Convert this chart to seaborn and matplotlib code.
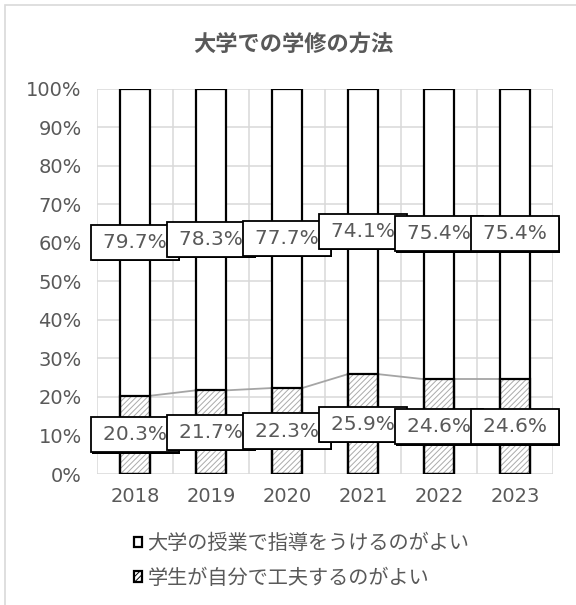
import pandas as pd
import matplotlib.pyplot as plt
import seaborn as sns
import matplotlib.patheffects as pe
from matplotlib.patches import Patch, Rectangle
from matplotlib.ticker import FuncFormatter, MultipleLocator, FixedLocator

# data
years = ['2018', '2019', '2020', '2021', '2022', '2023']
self_study = [20.3, 21.7, 22.3, 25.9, 24.6, 24.6]      # 学生が自分で工夫するのがよい
class_guidance = [79.7, 78.3, 77.7, 74.1, 75.4, 75.4]  # 大学の授業で指導をうけるのがよい
series_names = ['大学の授業で指導をうけるのがよい', '学生が自分で工夫するのがよい']
title = '大学での学修の方法'

df = pd.DataFrame({'year': years, 'bottom': self_study, 'top': class_guidance})
df['total'] = df['bottom'] + df['top']

sns.set_style('white')
plt.rcParams['font.family'] = ['DejaVu Sans', 'Noto Sans CJK JP']
plt.rcParams['hatch.linewidth'] = 0.7

txt = '#595959'
grid = '#D9D9D9'
W = 0.4
HATCH = '//////'

fig = plt.figure(figsize=(5.76, 6.05), dpi=100)
ax = fig.add_axes([97 / 576, 1 - 474 / 605, 456 / 576, 385.5 / 605])

# stacked bars
sns.barplot(data=df, x='year', y='total', order=years, color='white', width=W,
            linewidth=0, saturation=1, ax=ax, zorder=2)
sns.barplot(data=df, x='year', y='bottom', order=years, color='white', width=W,
            edgecolor='#AAAAAA', linewidth=0, hatch=HATCH, saturation=1, ax=ax, zorder=3)
sns.barplot(data=df, x='year', y='total', order=years, fill=False, color='black', width=W,
            linewidth=1.6, ax=ax, zorder=4)
sns.barplot(data=df, x='year', y='bottom', order=years, fill=False, color='black', width=W,
            linewidth=1.6, ax=ax, zorder=4)

# series lines between the bottom segments
for i in range(len(years) - 1):
    ax.plot([i + W / 2, i + 1 - W / 2], [self_study[i], self_study[i + 1]],
            color='#A5A5A5', lw=1.3, zorder=1.5)

# data labels
shadow = [pe.SimplePatchShadow(offset=(1.0, -1.0), shadow_rgbFace='black', alpha=1), pe.Normal()]
for i in range(len(years)):
    for val, ypos in [(class_guidance[i], self_study[i] + class_guidance[i] / 2),
                      (self_study[i], self_study[i] / 2)]:
        t = ax.text(i, ypos, f'\u2009{val:.1f}%\u2009', ha='center', va='center', fontsize=14.5,
                    color=txt, zorder=6,
                    bbox=dict(boxstyle='square,pad=0.4', fc='white', ec='black', lw=1.3))
        t.get_bbox_patch().set_path_effects(shadow)

ax.set_xlim(-0.5, len(years) - 0.5)
ax.set_ylim(0, 100)
ax.yaxis.set_major_locator(MultipleLocator(10))
ax.yaxis.set_major_formatter(FuncFormatter(lambda v, p: f'{v:.0f}%'))
ax.xaxis.set_minor_locator(FixedLocator([k - 0.5 for k in range(len(years) + 1)]))
ax.grid(axis='y', which='major', color=grid, lw=1.1)
ax.grid(axis='x', which='minor', color=grid, lw=1.1)
ax.set_axisbelow(True)
for s in ax.spines.values():
    s.set_visible(False)
ax.tick_params(axis='both', which='both', length=0, labelsize=14, colors=txt)
ax.tick_params(axis='y', pad=11)
ax.tick_params(axis='x', pad=9)
ax.set_xlabel('')
ax.set_ylabel('')

fig.text(293 / 576, 1 - 44 / 605, title, ha='center', va='center', fontsize=16,
         fontweight='bold', color=txt)

handles = [Patch(facecolor='white', edgecolor='black', lw=1.6),
           Patch(facecolor='white', edgecolor='black', lw=1.6, hatch=HATCH)]
leg = fig.legend(handles, series_names, loc='upper left', bbox_to_anchor=(134 / 576, 1 - 534 / 605),
                 frameon=False, fontsize=14.5, labelcolor=txt, handlelength=0.42, handleheight=0.42,
                 handletextpad=0.25, labelspacing=0.75, borderpad=0, borderaxespad=0)

# chart frame
fig.patches.append(Rectangle((5 / 576, -0.1), 1.2, 1.1 - 5 / 605, transform=fig.transFigure,
                             fill=False, ec=grid, lw=1.2))

fig.savefig('out.png', dpi=100)
